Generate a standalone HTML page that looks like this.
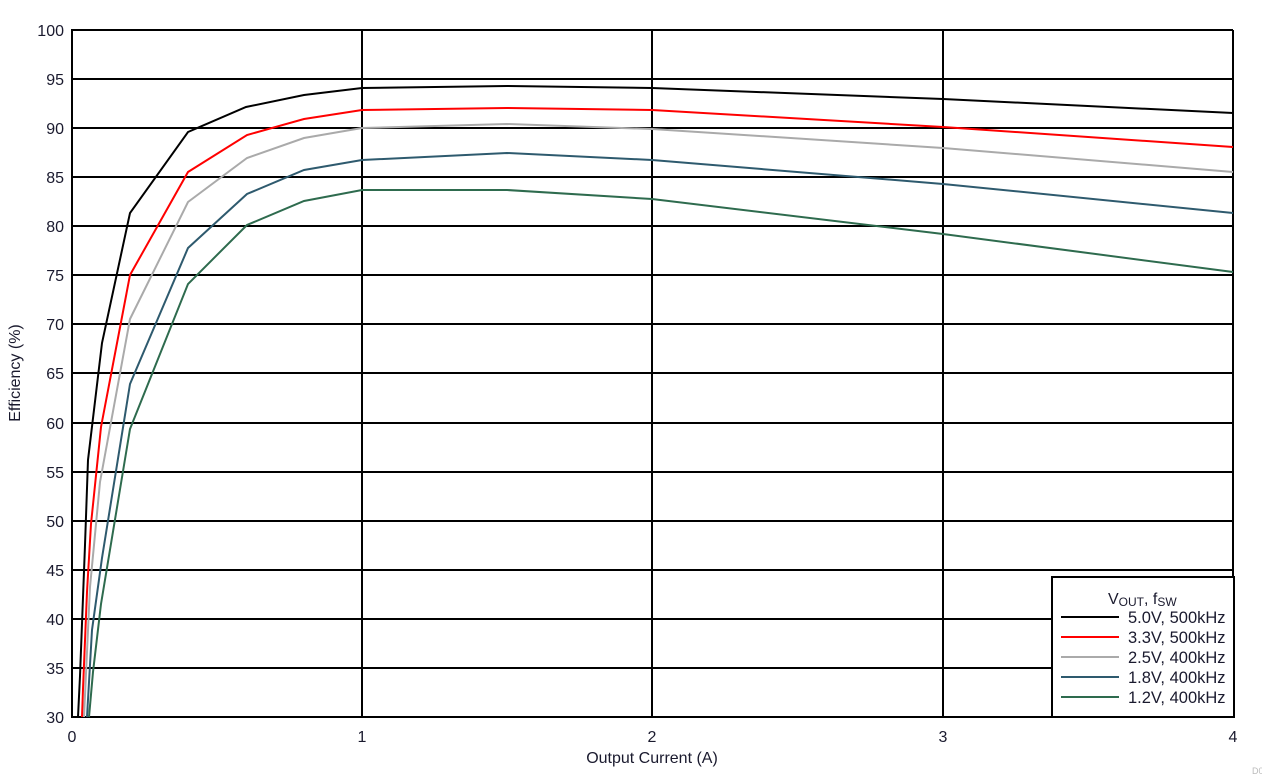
<!DOCTYPE html>
<html><head><meta charset="utf-8"><style>body{margin:0;background:#fff}svg{display:block;font-family:"Liberation Sans",sans-serif}</style></head><body>
<svg width="1262" height="776" xmlns="http://www.w3.org/2000/svg">
<g stroke="#000" stroke-width="2">
<line x1="71" y1="30" x2="1233" y2="30"/><line x1="71" y1="79" x2="1233" y2="79"/><line x1="71" y1="128" x2="1233" y2="128"/><line x1="71" y1="177" x2="1233" y2="177"/><line x1="71" y1="226" x2="1233" y2="226"/><line x1="71" y1="275" x2="1233" y2="275"/><line x1="71" y1="324" x2="1233" y2="324"/><line x1="71" y1="373" x2="1233" y2="373"/><line x1="71" y1="423" x2="1233" y2="423"/><line x1="71" y1="472" x2="1233" y2="472"/><line x1="71" y1="521" x2="1233" y2="521"/><line x1="71" y1="570" x2="1233" y2="570"/><line x1="71" y1="619" x2="1233" y2="619"/><line x1="71" y1="668" x2="1233" y2="668"/><line x1="71" y1="717" x2="1233" y2="717"/>
<line x1="72" y1="30" x2="72" y2="717"/><line x1="362" y1="30" x2="362" y2="717"/><line x1="652" y1="30" x2="652" y2="717"/><line x1="943" y1="30" x2="943" y2="717"/><line x1="1233" y1="30" x2="1233" y2="717"/>
</g>
<g fill="none" stroke-width="2">
<polyline stroke="#2e6b4e" points="89,717 93,672 101,604 130,429 188,284 247,225 304,201 362,190 507,190 652,199 943,234 1233,272"/>
<polyline stroke="#2e5a6e" points="87,717 92,630 102,558 130,384 188,248 247,194 304,170 362,160 507,153 652,160 943,184 1233,213"/>
<polyline stroke="#aaa" points="84,717 90,587 100,482 130,319 188,202 247,158 304,138 362,128 507,124 652,129 943,148 1233,172"/>
<polyline stroke="#f00" points="82,717 83,689 87,592 91,524 101,427 130,275 188,172 247,135 304,119 362,110 507,108 652,110 943,127 1233,147"/>
<polyline stroke="#000" points="78,717 80,676 85,545 88,460 102,343 130,213 188,132 246,107 304,95 362,88 507,86 652,88 943,99 1233,113"/>
</g>
<g font-size="16" fill="#1a1a2e" text-anchor="end">
<text x="64" y="36">100</text><text x="64" y="85">95</text><text x="64" y="134">90</text><text x="64" y="183">85</text><text x="64" y="232">80</text><text x="64" y="281">75</text><text x="64" y="330">70</text><text x="64" y="379">65</text><text x="64" y="429">60</text><text x="64" y="478">55</text><text x="64" y="527">50</text><text x="64" y="576">45</text><text x="64" y="625">40</text><text x="64" y="674">35</text><text x="64" y="723">30</text>
</g>
<g font-size="16" fill="#1a1a2e" text-anchor="middle">
<text x="72" y="742">0</text><text x="362" y="742">1</text><text x="652" y="742">2</text><text x="943" y="742">3</text><text x="1233" y="742">4</text>
<text x="652" y="763">Output Current (A)</text>
<text transform="translate(20,373) rotate(-90)">Efficiency (%)</text>
</g>
<text x="1252" y="774" font-size="9" fill="#bbb">D0</text>
<rect x="1052" y="577" width="182" height="140" fill="#fff" stroke="#000" stroke-width="2"/>
<text x="1108" y="604" font-size="16" fill="#1a1a2e">V<tspan font-size="12" dy="2">OUT</tspan><tspan dy="-2">, f</tspan><tspan font-size="12" dy="2">SW</tspan></text>
<g stroke-width="2">
<line x1="1061" y1="617" x2="1119" y2="617" stroke="#000"/>
<line x1="1061" y1="637" x2="1119" y2="637" stroke="#f00"/>
<line x1="1061" y1="657" x2="1119" y2="657" stroke="#aaa"/>
<line x1="1061" y1="677" x2="1119" y2="677" stroke="#2e5a6e"/>
<line x1="1061" y1="697" x2="1119" y2="697" stroke="#2e6b4e"/>
</g>
<g font-size="16.5" fill="#1a1a2e">
<text x="1128" y="623">5.0V, 500kHz</text><text x="1128" y="643">3.3V, 500kHz</text><text x="1128" y="663">2.5V, 400kHz</text><text x="1128" y="683">1.8V, 400kHz</text><text x="1128" y="703">1.2V, 400kHz</text>
</g>
</svg>
</body></html>
